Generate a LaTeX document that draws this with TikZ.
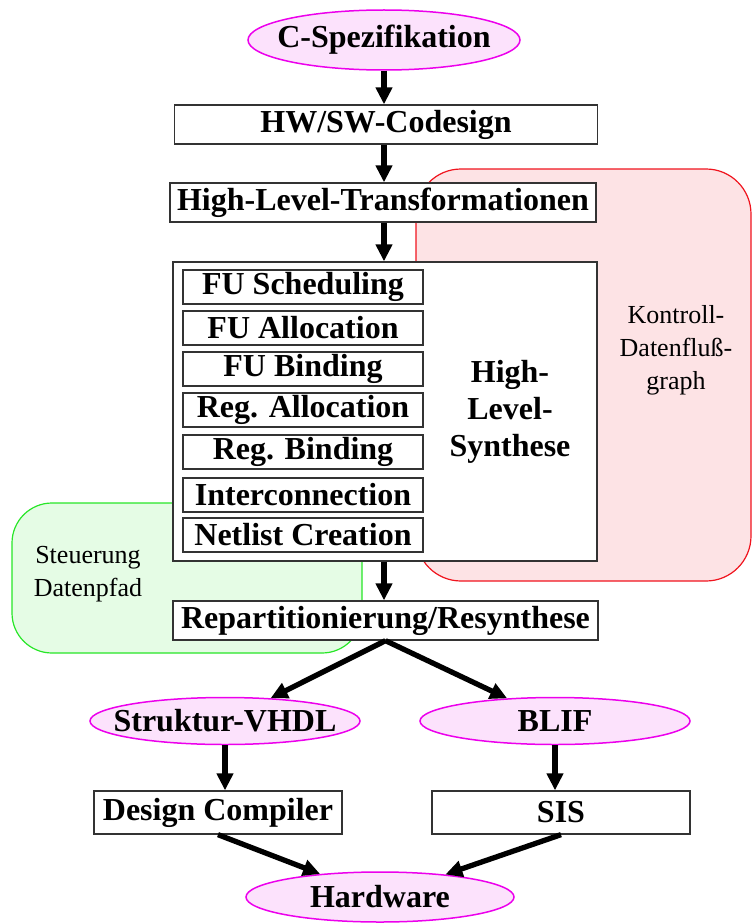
\documentclass[tikz,border=0pt]{standalone}
\usepackage{fontspec}
\setmainfont{Liberation Serif}
\usepackage{tikz}
\usetikzlibrary{shapes.geometric, arrows.meta}
\definecolor{SpecMag}{RGB}{236,0,236}
\definecolor{SpecFill}{RGB}{252,226,252}
\definecolor{KdgRed}{RGB}{240,20,30}
\definecolor{KdgFill}{RGB}{253,227,229}
\definecolor{StGreen}{RGB}{40,230,40}
\definecolor{StFill}{RGB}{229,252,229}
\newcommand{\elltext}[1]{\makebox[0pt][c]{#1}}

\begin{document}
\begin{tikzpicture}[x=1pt, y=-1pt,
          bigfont/.style={font=\fontsize{32}{37}\selectfont\bfseries},
          bx/.style={rectangle, draw=black!80, line width=1.3pt, fill=white,
                     inner sep=0pt, bigfont, minimum height=39pt},
          sub/.style={bx, minimum width=240pt, minimum height=34pt},
          ell/.style={ellipse, draw=SpecMag, fill=SpecFill, line width=1.5pt,
                      inner sep=0pt, bigfont},
          note/.style={align=center, font=\fontsize{26}{33}\selectfont},
          arr/.style={-{Triangle[length=17pt, width=16pt]}, line width=5.3pt, black}
        ]
        \useasboundingbox (0,0) rectangle (752,923);

        % background regions
        \draw[KdgRed, fill=KdgFill, line width=1.2pt, rounded corners=45pt]
              (416,169) rectangle (751,581);
        \node[note] (kdg) at (676,350) {Kontroll-\\Datenfluß-\\graph};

        \draw[StGreen, fill=StFill, line width=1.2pt, rounded corners=40pt]
              (12,503) rectangle (362,653);
        \node[note] (steu) at (88,574) {Steuerung\\Datenpfad};

        % main flow
        \node[ell, minimum width=272pt, minimum height=60pt]
              (spec) at (384,40) {\elltext{C-Spezifikation}};
        \node[bx, minimum width=423pt] (hwsw) at (386,124.5) {HW/SW-Codesign};
        \node[bx, minimum width=426pt] (hlt)  at (383,202.5)
              {High-Level-Transformationen};

        \node[bx, minimum width=424pt, minimum height=299pt]
              (hls)  at (385,411.5) {};
        \node[bigfont, align=center] (hlslbl) at (510,412)
              {High-\\Level-\\Synthese};

        \node[sub] (fus) at (303,287) {FU Scheduling};
        \node[sub] (fua) at (303,328) {FU Allocation};
        \node[sub] (fub) at (303,369) {FU Binding};
        \node[sub] (rga) at (303,410) {Reg. Allocation};
        \node[sub] (rgb) at (303,452) {Reg. Binding};
        \node[sub] (icn) at (303,495) {Interconnection};
        \node[sub] (nlc) at (303,535) {Netlist Creation};

        \node[bx, minimum width=425pt] (rep) at (385.5,620.5)
              {Repartitionierung/Resynthese};

        % back ends
        \node[ell, minimum width=270pt, minimum height=47pt]
              (vhdl) at (225,721) {\elltext{Struktur-VHDL}};
        \node[ell, minimum width=270pt, minimum height=47pt]
              (blif) at (555,721) {\elltext{BLIF}};
        \node[bx, minimum width=248pt, minimum height=43pt]
              (dc)   at (218,812.5) {Design Compiler};
        \node[bx, minimum width=258pt, minimum height=43pt]
              (sis)  at (561,812.5) {SIS};
        \node[ell, minimum width=268pt, minimum height=50pt]
              (hw)   at (380,897) {\elltext{Hardware}};

        \foreach \a/\b in {spec/hwsw, hwsw/hlt, hlt/hls, hls/rep}{
          \draw[arr] (\a.south -| 384,0) -- (\b.north -| 384,0);
        }
        \foreach \a/\b in {vhdl/dc, blif/sis}{
          \draw[arr] (\a.south) -- (\a.south |- \b.north);
        }
        \draw[arr] (rep.south) -- (vhdl);
        \draw[arr] (rep.south) -- (blif);
        \draw[arr] (dc.south) -- (hw);
        \draw[arr] (sis.south) -- (hw);
      \end{tikzpicture}
\end{document}
